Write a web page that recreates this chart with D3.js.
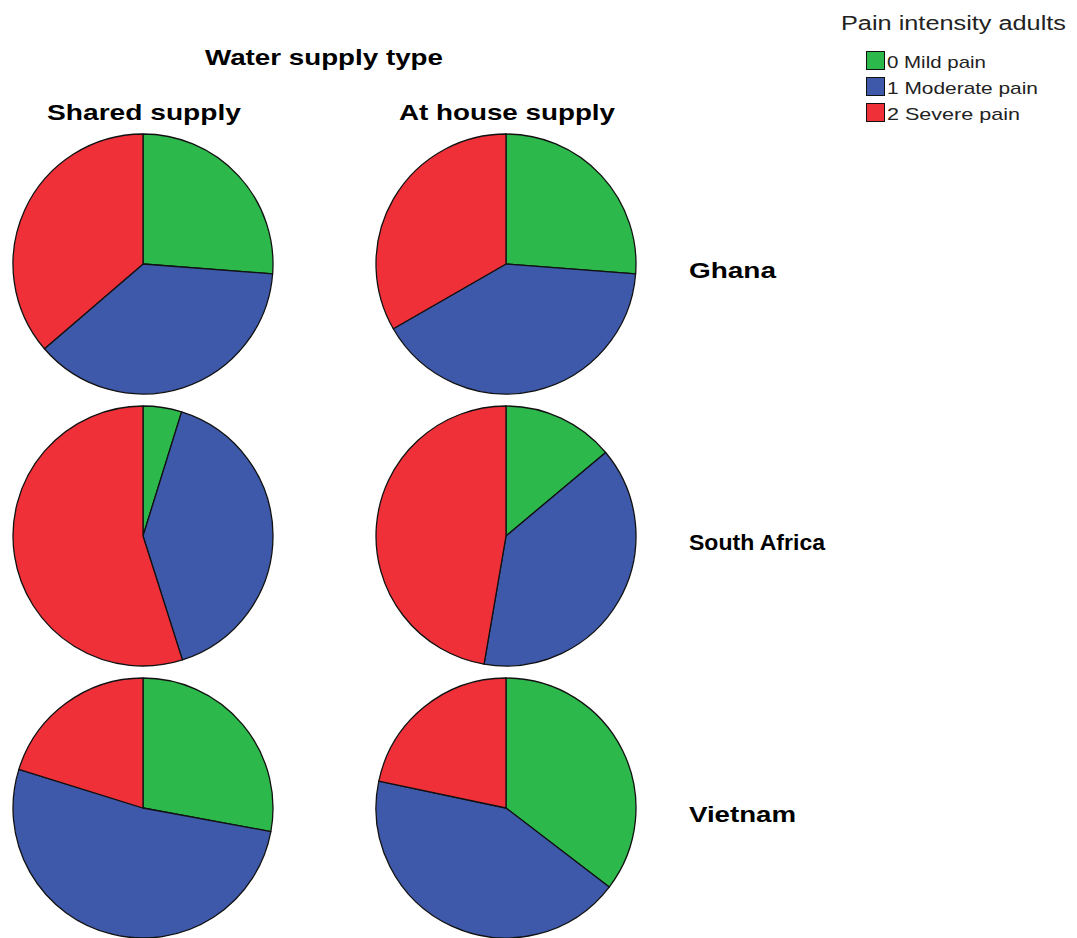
<!DOCTYPE html>
<html>
<head>
<meta charset="utf-8">
<script src="https://cdn.jsdelivr.net/npm/d3@7"></script>
<style>
  html, body { margin: 0; padding: 0; background: #fff; }
  svg { display: block; }
</style>
</head>
<body>
<svg id="chart" width="1077" height="938"></svg>
<script>
// Pain intensity categories (slice order, clockwise from 12 o'clock)
const categories = ["0 Mild pain", "1 Moderate pain", "2 Severe pain"];
const categoryColors = ["#2db84b", "#3e58aa", "#ef3039"];

// Panel grid
const supplyTypes = ["Shared supply", "At house supply"];
const countries = ["Ghana", "South Africa", "Vietnam"];

// Percent of adults per pain category, one array per country, one row per supply type
const ghana       = [[26.2, 37.5, 36.3], [26.2, 40.5, 33.3]];
const southAfrica = [[4.8, 40.3, 54.9],  [13.9, 38.8, 47.3]];
const vietnam     = [[27.9, 51.9, 20.2], [35.4, 42.9, 21.7]];

const countryValues = [ghana, southAfrica, vietnam];

const svg = d3.select("#chart");
const radius = 130;

const x = d3.scalePoint().domain(supplyTypes).range([143, 506]);
const y = d3.scalePoint().domain(countries).range([264, 808]);
const color = d3.scaleOrdinal().domain(categories).range(categoryColors);

const pie = d3.pie().sort(null).value(d => d.value);
const arc = d3.arc().innerRadius(0).outerRadius(radius);

// Column header
svg.append("text")
  .attr("x", 324).attr("y", 65)
  .attr("text-anchor", "middle")
  .attr("font-family", "Liberation Sans, Arial, sans-serif")
  .attr("font-weight", "bold")
  .attr("font-size", 22)
  .attr("textLength", 238).attr("lengthAdjust", "spacingAndGlyphs")
  .text("Water supply type");

const colWidths = [194, 216];
supplyTypes.forEach((s, i) => {
  svg.append("text")
    .attr("x", x(s) + 1).attr("y", 120)
    .attr("text-anchor", "middle")
    .attr("font-family", "Liberation Sans, Arial, sans-serif")
    .attr("font-weight", "bold")
    .attr("font-size", 22)
    .attr("textLength", colWidths[i]).attr("lengthAdjust", "spacingAndGlyphs")
    .text(s);
});

// Row labels
const rowWidths = [87, 136, 107];
countries.forEach((c, i) => {
  svg.append("text")
    .attr("x", 689).attr("y", y(c) + 14)
    .attr("font-family", "Liberation Sans, Arial, sans-serif")
    .attr("font-weight", "bold")
    .attr("font-size", 22)
    .attr("textLength", rowWidths[i]).attr("lengthAdjust", "spacingAndGlyphs")
    .text(c);
});

// Pies
countries.forEach((c, ci) => {
  supplyTypes.forEach((s, si) => {
    const data = categories.map((k, ki) => ({ key: k, value: countryValues[ci][si][ki] }));
    const g = svg.append("g").attr("transform", `translate(${x(s)},${y(c)})`);
    g.selectAll("path")
      .data(pie(data))
      .join("path")
      .attr("d", arc)
      .attr("fill", d => color(d.data.key))
      .attr("stroke", "#111")
      .attr("stroke-width", 1.3)
      .attr("stroke-linejoin", "round");
  });
});

// Legend
const legend = svg.append("g");
legend.append("text")
  .attr("x", 841).attr("y", 30)
  .attr("font-family", "Liberation Sans, Arial, sans-serif")
  .attr("font-size", 20)
  .attr("fill", "#222")
  .attr("textLength", 225).attr("lengthAdjust", "spacingAndGlyphs")
  .text("Pain intensity adults");

const legendWidths = [99, 151, 133];
categories.forEach((k, i) => {
  const ly = 51 + i * 26;
  legend.append("rect")
    .attr("x", 866.5).attr("y", ly + 0.5)
    .attr("width", 18).attr("height", 18)
    .attr("fill", color(k))
    .attr("stroke", "#111").attr("stroke-width", 1);
  legend.append("text")
    .attr("x", 887).attr("y", ly + 17)
    .attr("font-family", "Liberation Sans, Arial, sans-serif")
    .attr("font-size", 17)
    .attr("fill", "#222")
    .attr("textLength", legendWidths[i]).attr("lengthAdjust", "spacingAndGlyphs")
    .text(k);
});
</script>
</body>
</html>
